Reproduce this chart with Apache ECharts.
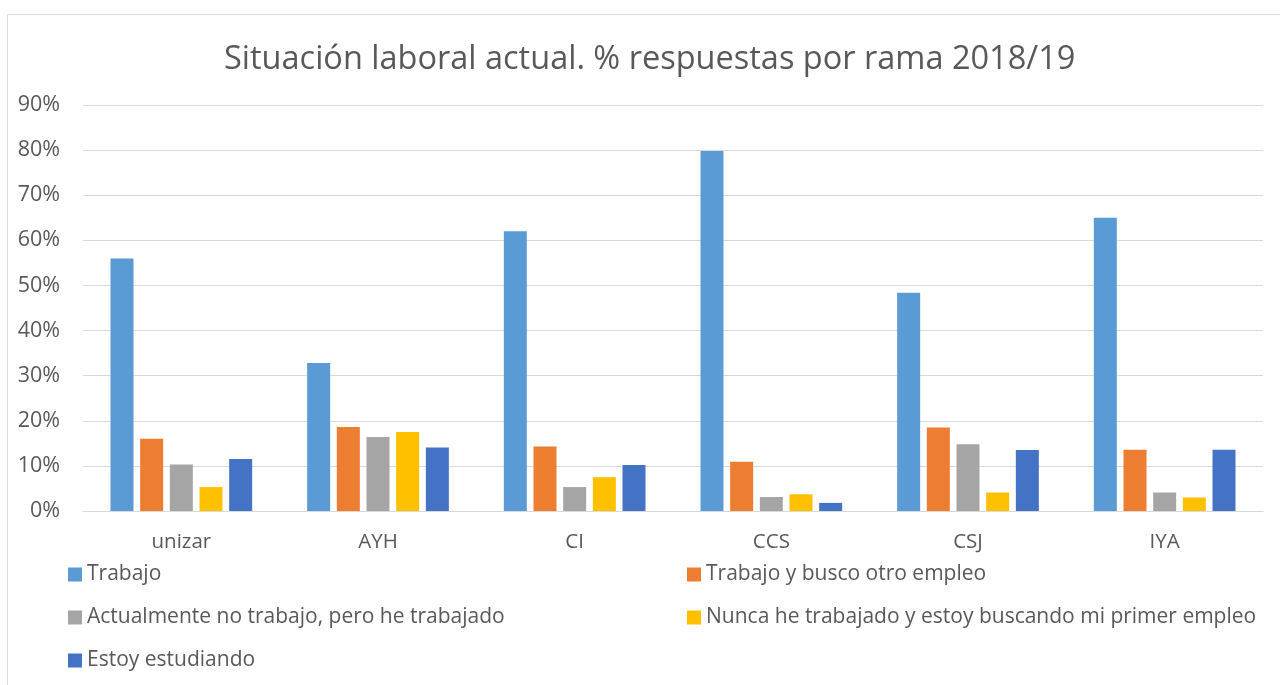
<!DOCTYPE html>
<html>
<head>
<meta charset="utf-8">
<script src="https://cdn.jsdelivr.net/npm/echarts@6/dist/echarts.min.js"></script>
<style>
html,body{margin:0;padding:0;background:#fff;}
#chart{width:1280px;height:685px;}
</style>
</head>
<body>
<div id="chart"></div>
<script>
const categories = ['unizar', 'AYH', 'CI', 'CCS', 'CSJ', 'IYA'];
const seriesNames = [
  'Trabajo',
  'Trabajo y busco otro empleo',
  'Actualmente no trabajo, pero he trabajado',
  'Nunca he trabajado y estoy buscando mi primer empleo',
  'Estoy estudiando'
];
const trabajo = [56.0, 32.8, 62.0, 79.8, 48.4, 65.0];
const buscoOtro = [16.0, 18.6, 14.3, 10.9, 18.5, 13.6];
const noTrabajo = [10.3, 16.4, 5.3, 3.1, 14.8, 4.1];
const nunca = [5.3, 17.5, 7.5, 3.7, 4.1, 3.0];
const estudiando = [11.5, 14.1, 10.2, 1.8, 13.5, 13.6];
const colors = ['#5B9BD5', '#ED7D31', '#A5A5A5', '#FFC000', '#4472C4'];

const seriesData = [trabajo, buscoOtro, noTrabajo, nunca, estudiando];
const FONT = 'Open Sans';
const TXT = '#595959';

const legendText = { fontFamily: FONT, fontSize: 21, color: TXT, lineHeight: 21 };

const chart = echarts.init(document.getElementById('chart'));
chart.setOption({
  animation: false,
  color: colors,
  title: {
    text: 'Situación laboral actual. % respuestas por rama 2018/19',
    left: 219,
    top: 38,
    textStyle: { fontFamily: FONT, fontSize: 32.5, fontWeight: 'normal', color: TXT }
  },
  graphic: [{
    type: 'rect',
    shape: { x: 7.5, y: 14.5, width: 1300, height: 700 },
    style: { fill: 'none', stroke: '#D9D9D9', lineWidth: 1 },
    silent: true
  }],
  legend: [
    {
      data: [seriesNames[0], seriesNames[2], seriesNames[4]],
      orient: 'vertical',
      left: 68, top: 564, padding: 0,
      icon: 'rect', itemWidth: 14, itemHeight: 14, itemGap: 22,
      textStyle: legendText
    },
    {
      data: [seriesNames[1], seriesNames[3]],
      orient: 'vertical',
      left: 687, top: 564, padding: 0,
      icon: 'rect', itemWidth: 14, itemHeight: 14, itemGap: 22,
      textStyle: legendText
    }
  ],
  grid: { left: 83, right: 17, top: 105, bottom: 174, containLabel: false },
  xAxis: {
    type: 'category',
    data: categories,
    axisLine: { lineStyle: { color: '#D9D9D9', width: 1 } },
    axisTick: { show: false },
    axisLabel: { fontFamily: FONT, fontSize: 20.5, color: TXT, margin: 21 }
  },
  yAxis: {
    type: 'value',
    min: 0, max: 90, interval: 10,
    axisLine: { show: false },
    axisTick: { show: false },
    splitLine: { lineStyle: { color: '#D9D9D9', width: 1 } },
    axisLabel: { fontFamily: FONT, fontSize: 21.5, color: TXT, margin: 23, formatter: '{value}%' }
  },
  series: seriesNames.map((name, i) => ({
    name: name,
    type: 'bar',
    data: seriesData[i],
    barWidth: 23,
    barGap: '29%',
    itemStyle: { color: colors[i] }
  }))
});
</script>
</body>
</html>
